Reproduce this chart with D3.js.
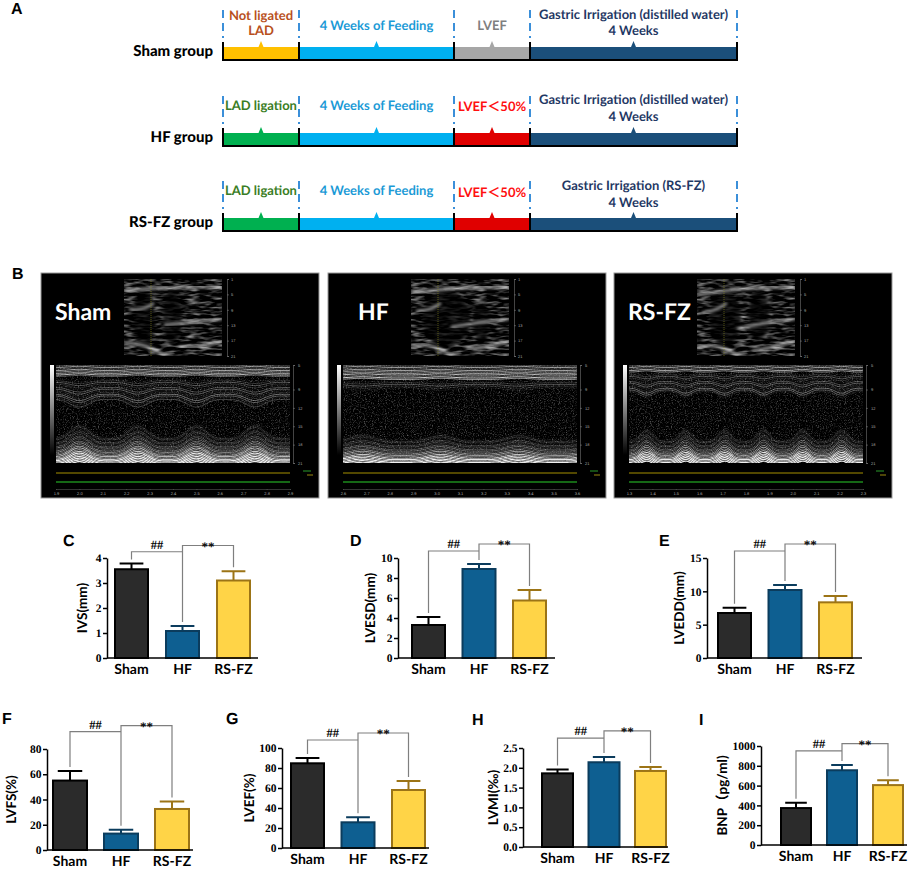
<!DOCTYPE html>
<html lang="en">
<head>
<meta charset="UTF-8">
<title>RS-FZ echo figure</title>
<script src="https://d3js.org/d3.v7.min.js"></script>
<style>
  body { margin: 0; background: #fff; }
  text { text-rendering: geometricPrecision; }
</style>
</head>
<body>
<div id="fig"></div>
<script>
// ---------- values ----------
const groups = ["Sham", "HF", "RS-FZ"];

const ivsMean   = [3.55, 1.08, 3.1];
const ivsErr    = [0.23, 0.2, 0.37];
const lvesdMean = [3.3, 8.9, 5.75];
const lvesdErr  = [0.8, 0.5, 1.05];
const lveddMean = [6.75, 10.2, 8.35];
const lveddErr  = [0.8, 0.75, 0.95];
const lvfsMean  = [55, 13, 32.5];
const lvfsErr   = [7.5, 3, 6];
const lvefMean  = [84.7, 25.7, 58];
const lvefErr   = [5.3, 5, 9];
const lvmiMean  = [1.86, 2.14, 1.92];
const lvmiErr   = [0.1, 0.13, 0.1];
const bnpMean   = [373, 755, 605];
const bnpErr    = [53, 54, 50];

const width = 920, height = 870;

const svg = d3.select("#fig").append("svg")
    .attr("width", width)
    .attr("height", height)
    .attr("viewBox", [0, 0, width, height]);

const defs = svg.append("defs");

// ---------- panel A : timeline ----------
const edges = [223, 299, 454, 530, 737];
const rows = [
    {label: "Sham group", top: 47,
     fills: ["#ffc000", "#00b0f0", "#a6a6a6", "#1b4f7a"],
     texts: [
        {lines: ["Not ligated", "LAD"], color: "#b8501c", dy: [-27, -12]},
        {lines: ["4 Weeks of Feeding"], color: "#1b9ad6", dy: [-17]},
        {lines: ["LVEF"], color: "#7f7f7f", dy: [-17]},
        {lines: ["Gastric Irrigation (distilled water)", "4 Weeks"], color: "#1f3864", dy: [-28, -12]}]},
    {label: "HF group", top: 133,
     fills: ["#00b050", "#00b0f0", "#e00000", "#1b4f7a"],
     texts: [
        {lines: ["LAD ligation"], color: "#3a7d24", dy: [-23]},
        {lines: ["4 Weeks of Feeding"], color: "#1b9ad6", dy: [-23]},
        {lines: ["LVEF＜50%"], color: "#ff1010", dy: [-22]},
        {lines: ["Gastric Irrigation (distilled water)", "4 Weeks"], color: "#1f3864", dy: [-29, -12]}]},
    {label: "RS-FZ group", top: 218,
     fills: ["#00b050", "#00b0f0", "#e00000", "#1b4f7a"],
     texts: [
        {lines: ["LAD ligation"], color: "#3a7d24", dy: [-23]},
        {lines: ["4 Weeks of Feeding"], color: "#1b9ad6", dy: [-23]},
        {lines: ["LVEF＜50%"], color: "#ff1010", dy: [-21]},
        {lines: ["Gastric Irrigation (RS-FZ)", "4 Weeks"], color: "#1f3864", dy: [-28, -11]}]}
];

svg.append("text").attr("x", 11).attr("y", 14)
    .attr("font-family", "Liberation Sans").attr("font-weight", "bold").attr("font-size", 16)
    .text("A");

rows.forEach(r => {
    const g = svg.append("g").attr("transform", `translate(0,${r.top})`);
    g.append("text").attr("x", 213).attr("y", 9).attr("text-anchor", "end")
        .attr("font-family", "Lato").attr("font-weight", "900").attr("font-size", 15)
        .text(r.label);
    // dashed guides
    g.selectAll("line.dash").data(edges).join("line")
        .attr("x1", d => d).attr("x2", d => d)
        .attr("y1", -37).attr("y2", -9)
        .attr("stroke", "#3b8fd9").attr("stroke-width", 2).attr("stroke-dasharray", "8,5");
    // segments
    const segs = d3.range(4);
    g.selectAll("rect.seg").data(segs).join("rect")
        .attr("x", i => edges[i]).attr("y", 0)
        .attr("width", i => edges[i + 1] - edges[i]).attr("height", 13)
        .attr("fill", i => r.fills[i]);
    g.selectAll("path.spike").data(segs).join("path")
        .attr("d", i => {
            const c = (edges[i] + edges[i + 1]) / 2;
            return `M${c - 2.5},0L${c},-6L${c + 2.5},0Z`;
        })
        .attr("fill", i => r.fills[i]);
    g.append("line").attr("x1", edges[0]).attr("x2", edges[4]).attr("y1", 13).attr("y2", 13)
        .attr("stroke", "#000").attr("stroke-width", 2);
    g.selectAll("line.tick").data(edges).join("line")
        .attr("x1", d => d).attr("x2", d => d).attr("y1", -5).attr("y2", 14)
        .attr("stroke", "#000").attr("stroke-width", 2);
    // labels
    r.texts.forEach((t, i) => {
        const c = (edges[i] + edges[i + 1]) / 2;
        t.lines.forEach((ln, j) => {
            g.append("text").attr("x", c).attr("y", t.dy[j]).attr("text-anchor", "middle")
                .attr("font-family", "Lato, 'Noto Sans CJK SC'").attr("font-weight", "bold").attr("font-size", 13)
                .attr("fill", t.color).text(ln);
        });
    });
});

// ---------- panel B : echo images ----------
function noiseFilter(id, freq, seed, slope, intercept) {
    const f = defs.append("filter").attr("id", id)
        .attr("x", 0).attr("y", 0).attr("width", 1).attr("height", 1)
        .attr("color-interpolation-filters", "sRGB");
    f.append("feTurbulence").attr("type", "fractalNoise").attr("baseFrequency", freq)
        .attr("numOctaves", 2).attr("seed", seed).attr("result", "n");
    f.append("feColorMatrix").attr("in", "n").attr("type", "matrix")
        .attr("values", `${slope} 0 0 0 ${intercept} ${slope} 0 0 0 ${intercept} ${slope} 0 0 0 ${intercept} 0 0 0 0 1`);
}
noiseFilter("speckM", 0.85, 4, 0.9, -0.45);
noiseFilter("speck2d", "0.08 0.35", 7, 1.4, -0.6);
defs.append("filter").attr("id", "soft").append("feGaussianBlur").attr("stdDeviation", 1.8);
defs.append("filter").attr("id", "tiny").append("feGaussianBlur").attr("stdDeviation", 0.35);
defs.append("clipPath").attr("id", "mclip").append("rect").attr("width", 234).attr("height", 98);
defs.append("clipPath").attr("id", "iclip").append("rect").attr("width", 98).attr("height", 77);
const grad = defs.append("linearGradient").attr("id", "gray").attr("x1", 0).attr("x2", 0).attr("y1", 0).attr("y2", 1);
grad.append("stop").attr("offset", 0).attr("stop-color", "#fff");
grad.append("stop").attr("offset", 1).attr("stop-color", "#000");

const echoPanels = [
    {label: "Sham", x: 41, labelDx: 14, cycles: 4, amp: 13, antAmp: 8, top: 12, ant: 14, antN: 13, post: 72, phase: 0.1, t0: 1.9,
     cav: [[20, 40, 11, 30], [48, 38, 9, 28]]},
    {label: "HF", x: 328, labelDx: 30, cycles: 3, amp: 6, antAmp: 3, top: 15, ant: 16, antN: 5, post: 75, phase: 0.25, t0: 2.6,
     cav: [[35, 40, 24, 28], [70, 44, 8, 20]]},
    {label: "RS-FZ", x: 614, labelDx: 14, cycles: 6, amp: 12, antAmp: 6, top: 7, ant: 8, antN: 12, post: 75, phase: 0.05, t0: 1.3,
     cav: [[28, 40, 16, 28], [62, 36, 10, 26]]}
];

const pulse = t => {
    const u = t - Math.floor(t);
    return Math.pow(0.5 - 0.5 * Math.cos(2 * Math.PI * u), 2);
};

echoPanels.forEach((e, pi) => {
    const g = svg.append("g").attr("transform", `translate(${e.x},273)`);
    g.append("rect").attr("width", 278).attr("height", 225).attr("fill", "#000")
        .attr("stroke", "#9a9a9a").attr("stroke-width", 1);

    // 2D view
    const im = g.append("g").attr("transform", "translate(83,6)");
    const ic = im.append("g").attr("clip-path", "url(#iclip)");
    ic.append("rect").attr("width", 98).attr("height", 77).attr("fill", "#000");
    ic.append("rect").attr("width", 98).attr("height", 77).attr("filter", "url(#speck2d)");
    e.cav.forEach(c => {
        ic.append("ellipse").attr("cx", c[0]).attr("cy", c[1]).attr("rx", c[2]).attr("ry", c[3])
            .attr("fill", "#000").attr("opacity", 0.7).attr("filter", "url(#soft)");
    });
    [[0, 12, 98, 8], [40, 46, 98, 40], [0, 64, 40, 76], [55, 68, 98, 62], [5, 30, 30, 24]].forEach((s, k) => {
        ic.append("path").attr("d", `M${s[0]},${s[1] + pi * 2}Q${(s[0] + s[2]) / 2},${s[1] - 5 + k * 2} ${s[2]},${s[3]}`)
            .attr("stroke", "#fff").attr("stroke-width", 2.5).attr("fill", "none")
            .attr("opacity", 0.65).attr("filter", "url(#soft)");
    });
    ic.append("line").attr("x1", 27).attr("x2", 27).attr("y1", 0).attr("y2", 77)
        .attr("stroke", "#8a8a20").attr("stroke-width", 0.6).attr("stroke-dasharray", "1,1");
    const dScale = d3.scaleLinear().domain([1, 21]).range([0, 77]);
    im.append("g").attr("transform", "translate(103,0)")
        .call(d3.axisRight(dScale).tickValues([1, 5, 9, 13, 17, 21]).tickSize(2).tickPadding(2))
        .call(a => a.selectAll("text").attr("fill", "#aaa").attr("font-size", 4))
        .call(a => a.selectAll("line, path").attr("stroke", "#888").attr("stroke-width", 0.5));

    g.append("text").attr("x", e.labelDx).attr("y", 47)
        .attr("font-family", "Lato").attr("font-weight", "bold").attr("font-size", 23)
        .attr("fill", "#fff").text(e.label);

    // M-mode
    const m = g.append("g").attr("transform", "translate(15,92)");
    const mc = m.append("g").attr("clip-path", "url(#mclip)");
    mc.append("rect").attr("width", 234).attr("height", 98).attr("fill", "#000");
    mc.append("rect").attr("width", 234).attr("height", 98).attr("filter", "url(#speckM)");
    const wl = mc.append("g").attr("filter", "url(#tiny)");
    const xs = d3.range(0, 236, 2);
    const per = 234 / e.cycles;
    const line = d3.line().curve(d3.curveBasis);
    const drawLines = (n, yfn, opfn, col) => {
        d3.range(n).forEach(k => {
            wl.append("path")
                .attr("d", line(xs.map(x => [x, yfn(k, x / per + e.phase)])))
                .attr("fill", "none").attr("stroke", col)
                .attr("stroke-width", 0.6 + 0.9 * Math.abs(Math.sin(k * 3.1))).attr("opacity", opfn(k));
        });
    };
    // bright top band
    drawLines(Math.round(e.top / 1.5), (k, t) => k * 1.5 + 1 - 1.2 * pulse(t),
        k => 0.35 + 0.6 * Math.abs(Math.sin(k * 1.3 + 0.4)), "#f4f4f4");
    // anterior wall
    drawLines(e.antN, (k, t) => e.ant + k * 1.7 + e.antAmp * pulse(t) * (0.3 + 0.7 * k / e.antN),
        k => 0.1 + 0.45 * Math.pow(Math.abs(Math.sin(k * 2.3)), 2), "#cfcfcf");
    // posterior wall, brightest toward the bottom of the view
    const pv = Math.round((98 - e.post) / 1.4);
    drawLines(pv + 4, (k, t) => e.post + k * 1.4 - e.amp * pulse(t) * (1 - 0.45 * k / pv),
        k => Math.min(1, 0.06 + 0.9 * Math.pow(Math.min(1, k / pv), 2.2) + 0.3 * Math.pow(Math.abs(Math.sin(k * 2.1)), 3)), "#f0f0f0");

    const depth = d3.scaleLinear().domain([4.8, 20.8]).range([0, 98]);
    m.append("g").attr("transform", "translate(237,0)")
        .call(d3.axisRight(depth).tickValues([4.8, 8.8, 11.8, 14.8, 17.8, 20.8]).tickSize(2).tickPadding(3))
        .call(a => a.selectAll("text").attr("fill", "#aaa").attr("font-size", 4))
        .call(a => a.selectAll("line, path").attr("stroke", "#888").attr("stroke-width", 0.5));

    g.append("rect").attr("x", 9).attr("y", 92).attr("width", 4).attr("height", 90).attr("fill", "url(#gray)");
    g.append("line").attr("x1", 15).attr("x2", 249).attr("y1", 200).attr("y2", 200)
        .attr("stroke", "#6f6000").attr("stroke-width", 1.5);
    g.append("line").attr("x1", 15).attr("x2", 249).attr("y1", 209).attr("y2", 209)
        .attr("stroke", "#1d8a1d").attr("stroke-width", 1.5);
    g.append("line").attr("x1", 262).attr("x2", 270).attr("y1", 198).attr("y2", 198).attr("stroke", "#2a9a2a");
    g.append("line").attr("x1", 266).attr("x2", 272).attr("y1", 202).attr("y2", 202).attr("stroke", "#9a8a10");

    const time = d3.scaleLinear().domain([e.t0, e.t0 + 1]).range([15, 249]);
    g.append("g").attr("transform", "translate(0,216)")
        .call(d3.axisBottom(time).ticks(10).tickFormat(d3.format(".1f")).tickSize(1).tickPadding(2))
        .call(a => a.selectAll("text").attr("fill", "#aaa").attr("font-size", 4))
        .call(a => a.selectAll("line, path").attr("stroke", "#666").attr("stroke-width", 0.5));
});

svg.append("text").attr("x", 12).attr("y", 279)
    .attr("font-family", "Liberation Sans").attr("font-weight", "bold").attr("font-size", 16)
    .text("B");

// ---------- panels C-I : bar charts ----------
const fills = ["#2b2b2b", "#0e5f91", "#ffd447"];
const strokes = ["#000", "#0b3c5d", "#9c7416"];

const panels = [
    {id: "C", title: "IVS(mm)", mean: ivsMean, err: ivsErr, max: 4, ticks: [0, 1, 2, 3, 4], fmt: d3.format("d"),
     hash: 4.25, star: 4.5, ax: 107, start: 115, step: 51, barW: 33, end: 258, y0: 658, yTop: 558, titleX: 84, letter: [63, 546]},
    {id: "D", title: "LVESD(mm)", mean: lvesdMean, err: lvesdErr, max: 10, ticks: [0, 2, 4, 6, 8, 10], fmt: d3.format("d"),
     hash: 10.7, star: 11.4, ax: 398, start: 412, step: 50.5, barW: 33, end: 555, y0: 658, yTop: 558, titleX: 372, letter: [350, 546]},
    {id: "E", title: "LVEDD(mm)", mean: lveddMean, err: lveddErr, max: 15, ticks: [0, 5, 10, 15], fmt: d3.format("d"),
     hash: 16.05, star: 17.1, ax: 707, start: 718, step: 50.5, barW: 33, end: 862, y0: 658, yTop: 558, titleX: 681, letter: [659, 546]},
    {id: "F", title: "LVFS(%)", mean: lvfsMean, err: lvfsErr, max: 80, ticks: [0, 20, 40, 60, 80], fmt: d3.format("d"),
     hash: 93.7, star: 98.5, ax: 47, start: 53, step: 51, barW: 34, end: 193, y0: 850, yTop: 749, titleX: 13, letter: [2, 724]},
    {id: "G", title: "LVEF(%)", mean: lvefMean, err: lvefErr, max: 100, ticks: [0, 20, 40, 60, 80, 100], fmt: d3.format("d"),
     hash: 108, star: 115, ax: 282, start: 291, step: 50.5, barW: 33, end: 429, y0: 848, yTop: 748, titleX: 251, letter: [226, 724]},
    {id: "H", title: "LVMI(‰)", mean: lvmiMean, err: lvmiErr, max: 2.5, ticks: [0, 0.5, 1, 1.5, 2, 2.5], fmt: d3.format(".1f"),
     hash: 2.75, star: 2.93, ax: 523, start: 542, step: 46.5, barW: 31, end: 668, y0: 847, yTop: 748, titleX: 495, letter: [472, 725]},
    {id: "I", title: "BNP（pg/ml)", mean: bnpMean, err: bnpErr, max: 1000, ticks: [0, 200, 400, 600, 800, 1000], fmt: d3.format("d"),
     hash: 950, star: 1024, ax: 761, start: 781, step: 46, barW: 30, end: 907, y0: 845, yTop: 746, titleX: 724, letter: [699, 725]}
];

panels.forEach(p => {
    const g = svg.append("g");
    const y = d3.scaleLinear().domain([0, p.max]).range([p.y0, p.yTop]);
    const x = d3.scaleBand().domain(groups)
        .range([p.start, p.start + 2 * p.step + p.barW])
        .paddingInner((p.step - p.barW) / p.step).paddingOuter(0);
    const cx = i => x(groups[i]) + x.bandwidth() / 2;

    g.append("text").attr("x", p.letter[0]).attr("y", p.letter[1])
        .attr("font-family", "Liberation Sans").attr("font-weight", "bold").attr("font-size", 16)
        .text(p.id);

    // significance brackets
    const gap = 4;
    const topOf = i => y(p.mean[i] + p.err[i]) - gap;
    const yh = y(p.hash), ys = y(p.star);
    g.append("path")
        .attr("d", `M${cx(0)},${topOf(0)}V${yh}H${cx(1)}`)
        .attr("fill", "none").attr("stroke", "#7f7f7f").attr("stroke-width", 1.2);
    g.append("path")
        .attr("d", `M${cx(1)},${topOf(1)}V${ys}H${cx(2)}V${topOf(2)}`)
        .attr("fill", "none").attr("stroke", "#7f7f7f").attr("stroke-width", 1.2);
    g.append("text").attr("x", (cx(0) + cx(1)) / 2).attr("y", yh - 3).attr("text-anchor", "middle")
        .attr("font-family", "Liberation Serif").attr("font-weight", "bold").attr("font-size", 12.5)
        .attr("fill", "#000").text("##");
    g.append("text").attr("x", (cx(1) + cx(2)) / 2).attr("y", ys + 5).attr("text-anchor", "middle")
        .attr("font-family", "Liberation Serif").attr("font-weight", "bold").attr("font-size", 13)
        .attr("fill", "#000").text("**");

    // bars
    g.selectAll("rect.bar").data(groups).join("rect")
        .attr("x", d => x(d))
        .attr("y", (d, i) => y(p.mean[i]))
        .attr("width", x.bandwidth())
        .attr("height", (d, i) => p.y0 - y(p.mean[i]))
        .attr("fill", (d, i) => fills[i])
        .attr("stroke", (d, i) => strokes[i])
        .attr("stroke-width", 2);
    // error bars (upper only)
    groups.forEach((d, i) => {
        const c = cx(i), cap = x.bandwidth() * 0.36;
        g.append("path")
            .attr("d", `M${c},${y(p.mean[i])}V${y(p.mean[i] + p.err[i])}M${c - cap},${y(p.mean[i] + p.err[i])}H${c + cap}`)
            .attr("fill", "none").attr("stroke", strokes[i]).attr("stroke-width", 2);
    });

    // axes
    g.append("g").attr("transform", `translate(${p.ax},0)`)
        .call(d3.axisLeft(y).tickValues(p.ticks).tickFormat(p.fmt).tickSize(4).tickSizeOuter(0).tickPadding(1.5))
        .call(a => a.selectAll("text").attr("font-family", "Liberation Serif").attr("font-weight", "bold")
            .attr("font-size", 11.5).attr("fill", "#000"))
        .call(a => a.selectAll("line, path").attr("stroke", "#000").attr("stroke-width", 1.5));
    g.append("line").attr("x1", p.ax).attr("x2", p.end).attr("y1", p.y0).attr("y2", p.y0)
        .attr("stroke", "#000").attr("stroke-width", 1.5);
    g.append("g").attr("transform", `translate(0,${p.y0})`)
        .call(d3.axisBottom(x).tickSize(0).tickPadding(6))
        .call(a => a.select(".domain").remove())
        .call(a => a.selectAll("text").attr("font-family", "Lato").attr("font-weight", "bold")
            .attr("font-size", 14).attr("fill", "#000"));

    g.append("text")
        .attr("transform", `translate(${p.titleX},${(p.y0 + p.yTop) / 2}) rotate(-90)`)
        .attr("text-anchor", "middle").attr("dominant-baseline", "middle")
        .attr("font-family", "Lato, 'Noto Sans CJK SC'").attr("font-weight", "bold").attr("font-size", 13.5)
        .text(p.title);
});
</script>
</body>
</html>
